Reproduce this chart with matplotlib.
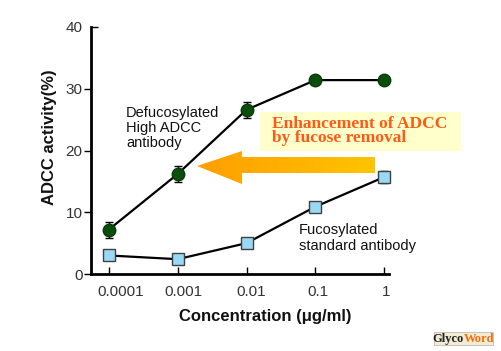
import numpy as np
import matplotlib
matplotlib.use("Agg")
import matplotlib.pyplot as plt
import matplotlib.lines as mlines
from matplotlib.patches import Polygon, Rectangle
from matplotlib.transforms import ScaledTranslation

plt.rcParams["font.family"] = ["Liberation Sans", "DejaVu Sans"]

# data
conc = [0.0001, 0.001, 0.01, 0.1, 1]
tick_labels = ["0.0001", "0.001", "0.01", "0.1", "1"]
defuc = [7.2, 16.2, 26.6, 31.4, 31.4]
defuc_err = [1.3, 1.3, 1.3, 0.5, 0.5]
fuc = [3.0, 2.4, 5.0, 10.9, 15.7]
fuc_err = [0.3, 0.3, 0.3, 0.4, 1.0]

W, H = 501, 351
fig = plt.figure(figsize=(W / 100, H / 100), dpi=100)
fig.patch.set_facecolor("white")

ax = fig.add_axes([91 / W, 1 - 274 / H, 298 / W, 247 / H])
ax.set_xscale("log")
ax.set_xlim(10 ** -4.26, 10 ** 0.07)
ax.set_ylim(0, 40)

for y, e, mk, ms, fc, ec in [(defuc, defuc_err, "o", 9, "#0b4d0b", "#0b3a0b"),
                             (fuc, fuc_err, "s", 8, "#99d9f5", "#404040")]:
    cont = ax.errorbar(conc, y, yerr=e, color="black", lw=1.6, capsize=3,
                       elinewidth=1, capthick=1, marker=mk, ms=ms, mfc=fc,
                       mec=ec, mew=1, zorder=3)
    for art in cont.get_children():
        art.set_clip_on(False)

for s in ["top", "right"]:
    ax.spines[s].set_visible(False)
for s in ["left", "bottom"]:
    ax.spines[s].set_linewidth(2)
ax.set_yticks([0, 10, 20, 30, 40])
ax.set_xticks(conc)
ax.set_xticklabels(tick_labels)
ax.minorticks_off()
ax.tick_params(axis="y", direction="out", length=5, width=1, labelsize=11,
               labelcolor="#333333", pad=1)
ax.tick_params(axis="x", direction="in", length=5, width=1, labelsize=11,
               labelcolor="#333333", pad=8)
# top tick points inward in the original
ax.yaxis.get_major_ticks()[-1].tick1line.set_marker(mlines.TICKRIGHT)

# small shift of x tick labels as in the original
shifts = [12, 6, 5, 3, 2]
for lab, dx in zip(ax.get_xticklabels(), shifts):
    lab.set_transform(lab.get_transform() +
                      ScaledTranslation(dx / 100, 0, fig.dpi_scale_trans))

# overlay in pixel coordinates for annotations
ov = fig.add_axes([0, 0, 1, 1], facecolor="none")
ov.set_xlim(0, W)
ov.set_ylim(H, 0)
ov.axis("off")

ov.text(50, 137, "ADCC activity(%)", rotation=90, fontsize=12,
        fontweight="bold", ha="center", va="center", color="#111111")
ov.text(265, 317, "Concentration (\u03bcg/ml)", fontsize=12,
        fontweight="bold", ha="center", va="center", color="#111111")

ov.text(126, 128, "Defucosylated\nHigh ADCC\nantibody", fontsize=10.5,
        va="center", ha="left", linespacing=1.1, color="#111111")
ov.text(299, 238, "Fucosylated\nstandard antibody", fontsize=10.5,
        va="center", ha="left", linespacing=1.1, color="#111111")

# note box
ov.add_patch(Rectangle((260, 112), 201, 39, facecolor="#ffffcc",
                       edgecolor="none", zorder=1))
ov.text(272, 131, "Enhancement of ADCC\nby fucose removal", fontsize=12.5,
        family="Liberation Serif", fontweight="bold", color="#ff5a14",
        va="center", ha="left", linespacing=0.85, zorder=2)

# gradient arrow
arrow = [(197, 166), (242, 151), (242, 157), (375, 157), (375, 173),
         (242, 173), (242, 184)]
poly = Polygon(arrow, closed=True, facecolor="none", edgecolor="none")
ov.add_patch(poly)
grad = np.linspace(0, 1, 256).reshape(1, -1)
cmap = matplotlib.colors.LinearSegmentedColormap.from_list(
    "arr", ["#ff9e00", "#ffc400"])
im = ov.imshow(grad, extent=(197, 375, 184, 151), cmap=cmap, aspect="auto",
               zorder=2)
im.set_clip_path(poly)
ov.set_xlim(0, W)
ov.set_ylim(H, 0)

# logo
ov.add_patch(Rectangle((434, 332), 59, 13, facecolor="#f3ecd2",
                       edgecolor="#bbbbbb", lw=0.6, zorder=1))
ov.text(464, 339, "Glyco", fontsize=9, family="Liberation Serif",
        fontweight="bold", color="#222222", ha="right", va="center")
ov.text(464, 339, "Word", fontsize=9, family="Liberation Serif",
        fontweight="bold", color="#f07010", ha="left", va="center")

fig.savefig("out.png", dpi=100)
